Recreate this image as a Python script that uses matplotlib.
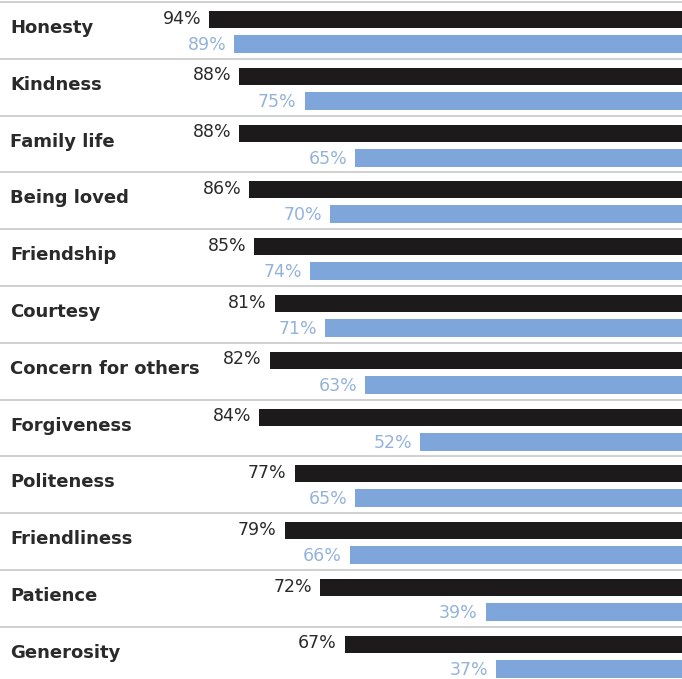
import matplotlib
matplotlib.use("Agg")
import matplotlib.pyplot as plt

categories = ["Honesty", "Kindness", "Family life", "Being loved", "Friendship",
              "Courtesy", "Concern for others", "Forgiveness", "Politeness",
              "Friendliness", "Patience", "Generosity"]
black_vals = [94, 88, 88, 86, 85, 81, 82, 84, 77, 79, 72, 67]
blue_vals = [89, 75, 65, 70, 74, 71, 63, 52, 65, 66, 39, 37]

W, H = 682, 679
scale = 5.03          # pixels per percent
row_h = 56.8
top0 = 2

fig = plt.figure(figsize=(W / 100, H / 100), dpi=100)
ax = fig.add_axes([0, 0, 1, 1])
ax.set_xlim(W / scale, 0)
ax.set_ylim(H, 0)
ax.axis("off")

BLACK = "#1d1a1b"
BLUE = "#7ea6da"
BLUE_TXT = "#94b3da"
GRID = "#c8c8c8"
TXT = "#2a2a2a"

fams = ["DejaVu Sans"]
pad = 8 / scale

for i, cat in enumerate(categories):
    top = top0 + i * row_h
    ax.axhline(top, color=GRID, lw=1.2)
    yb = top + 17.5
    yl = top + 42
    ax.barh(yb, black_vals[i], height=17, left=0, color=BLACK)
    ax.barh(yl, blue_vals[i], height=18, left=0, color=BLUE)
    ax.text(W / scale - 10 / scale, top + 26, cat, ha="left", va="center",
            fontsize=13, fontweight="bold", color=TXT, family=fams)
    ax.text(black_vals[i] + pad, yb - 1, f"{black_vals[i]}%", ha="right",
            va="center", fontsize=12.5, color=TXT, family=fams)
    ax.text(blue_vals[i] + pad, yl + 1, f"{blue_vals[i]}%", ha="right",
            va="center", fontsize=12.5, color=BLUE_TXT, family=fams)

fig.savefig("out.png", dpi=100)
